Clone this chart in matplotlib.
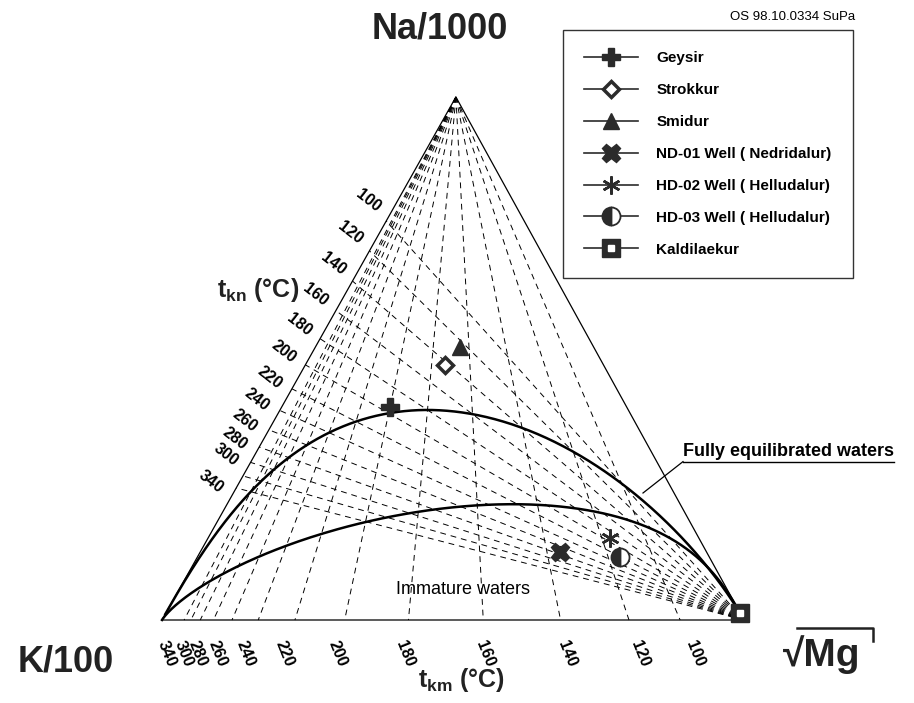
import numpy as np
import matplotlib
matplotlib.use("Agg")
import matplotlib.pyplot as plt
from matplotlib.lines import Line2D
from matplotlib.legend_handler import HandlerTuple

plt.rcParams['font.family'] = ['Liberation Sans', 'DejaVu Sans']
plt.rcParams['mathtext.fontset'] = 'custom'
plt.rcParams['mathtext.rm'] = 'Liberation Sans'
plt.rcParams['mathtext.bf'] = 'Liberation Sans:bold'

# sample compositions (% of Na/1000 + K/100 + sqrt(Mg))
names = ["Geysir", "Strokkur", "Smidur", "ND-01 Well ( Nedridalur)",
         "HD-02 Well ( Helludalur)", "HD-03 Well ( Helludalur)", "Kaldilaekur"]
na_pct = [40.7, 48.8, 52.2, 13.0, 15.7, 12.0, 1.3]
k_pct = [40.6, 27.3, 22.9, 25.1, 15.2, 15.3, 0.0]
mg_pct = [18.7, 23.9, 24.9, 61.9, 69.1, 72.7, 98.7]

# isotherms (deg C)
tkn_lines = [100, 120, 140, 160, 180, 200, 220, 240, 260, 280, 300, 320, 340]
tkn_labels = [100, 120, 140, 160, 180, 200, 220, 240, 260, 280, 300, 340]
tkm_lines = [100, 120, 140, 160, 180, 200, 220, 240, 260, 280, 300, 320, 340]
tkm_labels = [100, 120, 140, 160, 180, 200, 220, 240, 260, 280, 300, 340]

# geothermometers: Na/K (Arnorsson 1983), K/Mg (Giggenbach 1988)
NAK_A, NAK_B = 933.0, 0.993
KMG_A, KMG_B = 14.0, 4410.0
MI_IMMATURE = 2.0

APEX_X = 0.505
DARK = '#2b2b2b'


def tern(na, k, mg):
    na, k, mg = (np.asarray(v, dtype=float) for v in (na, k, mg))
    s = na + k + mg
    return (mg + APEX_X * na) / s, na / s


def nak(t):
    return 10 ** (NAK_A / (t + 273.15) - NAK_B)


def k2mg(t):
    return 10 ** (KMG_A - KMG_B / (t + 273.15))


fig = plt.figure(figsize=(9.14, 7.03), dpi=100)
ax = fig.add_axes([0, 0, 1, 1])
ax.set_xlim((0 - 162) / 582, (914 - 162) / 582)
ax.set_ylim((620 - 703) / 523, 620 / 523)
ax.axis('off')

# triangle
ax.plot([0, 1, APEX_X, 0], [0, 0, 1, 0], color='black', lw=0.9)

dash = (0, (6, 5))
# tkn lines: from Mg apex to K-Na edge
for t in tkn_lines:
    x, y = tern(nak(t) / 10, 1, 0)
    ax.plot([1, x], [0, y], color='black', lw=0.7, linestyle=dash)
for t in tkn_labels:
    x, y = tern(nak(t) / 10, 1, 0)
    lx, ly = 1 + (x - 1) * 1.05, y * 1.05
    ax.text(lx, ly, str(t), rotation=-38, ha='center', va='center',
            fontsize=11.5, fontweight='bold')

# tkm lines: from Na apex to K-Mg edge
for t in tkm_lines:
    x, y = tern(0, np.sqrt(k2mg(t)) / 100, 1)
    ax.plot([APEX_X, x], [1, y], color='black', lw=0.7, linestyle=dash)
for t in tkm_labels:
    x, y = tern(0, np.sqrt(k2mg(t)) / 100, 1)
    lx, ly = APEX_X + (x - APEX_X) * 1.065, 1 - 1.065
    ax.text(lx, ly, str(t), rotation=-68, ha='center', va='center',
            fontsize=11.5, fontweight='bold')

# full equilibrium curve
tt = np.concatenate([np.linspace(-20, 400, 500), np.geomspace(400, 20000, 300)])
kp = np.sqrt(k2mg(tt)) / 100
fx, fy = tern(kp * nak(tt) / 10, kp, 1)
ax.plot(fx, fy, color='black', lw=1.8)

# immature water boundary (MI = 2.0)
L = np.linspace(-8, 16, 800)
kp = 10 ** (L / 2) / 100
na_k = 10 ** (MI_IMMATURE - 0.315 * L)
ix, iy = tern(kp * na_k / 10, kp, 1)
ax.plot(ix, iy, color='black', lw=1.8)

# samples
px, py = tern(na_pct, k_pct, mg_pct)
styles = [
    dict(marker='P', ms=13, mfc=DARK, mec=DARK),
    dict(marker='D', ms=8.5, mfc='white', mec=DARK, mew=2.5),
    dict(marker='^', ms=11, mfc=DARK, mec=DARK),
    dict(marker='X', ms=13, mfc=DARK, mec=DARK),
    dict(marker=(6, 2, 0), ms=13, mfc=DARK, mec=DARK, mew=1.8),
    dict(marker='o', ms=13, mfc=DARK, mec=DARK, fillstyle='left',
         mfcalt='white', mew=1.3),
    dict(marker='s', ms=13, mfc=DARK, mec=DARK),
]
handles = []
for i, st in enumerate(styles):
    ax.plot(px[i], py[i], linestyle='none', zorder=5, **st)
    h = Line2D([], [], color=DARK, lw=1.2, **st)
    if i == len(styles) - 1:
        inner = Line2D([], [], linestyle='none', marker='s', ms=5,
                       mfc='white', mec='white')
        ax.plot(px[i], py[i], linestyle='none', zorder=6, marker='s', ms=5,
                mfc='white', mec='white')
        h = (h, inner)
    handles.append(h)

leg = fig.legend(handles, names, loc='upper left',
                 bbox_to_anchor=(563 / 914, 1 - 30 / 703),
                 handler_map={tuple: HandlerTuple(ndivide=1)},
                 prop={'weight': 'bold', 'size': 11},
                 frameon=True, fancybox=False, edgecolor='black',
                 handlelength=3.5, handletextpad=1.2, borderpad=1.4,
                 labelspacing=1.17, borderaxespad=0)
leg.get_frame().set_linewidth(1.0)

# corner and axis titles
ax.text((440 - 162) / 582, (620 - 29) / 523, 'Na/1000', ha='center',
        va='center', fontsize=26, fontweight='bold', color='#222222')
ax.text((66 - 162) / 582, (620 - 662) / 523, 'K/100', ha='center',
        va='center', fontsize=26, fontweight='bold', color='#222222')
ax.text((822 - 162) / 582, (620 - 655) / 523, '\u221aMg', ha='center',
        va='center', fontsize=28, fontweight='bold', color='#222222')
ax.plot([(797 - 162) / 582, (873 - 162) / 582, (873 - 162) / 582],
        [(620 - 628) / 523, (620 - 628) / 523, (620 - 641) / 523],
        color='#222222', lw=1.8)
ax.text((258 - 162) / 582, (620 - 290) / 523, r'$\mathbf{t}_{\mathbf{kn}}$ (°C)',
        ha='center', va='center', fontsize=18, fontweight='bold', color='#222222')
ax.text((462 - 162) / 582, (620 - 680) / 523, r'$\mathbf{t}_{\mathbf{km}}$ (°C)',
        ha='center', va='center', fontsize=18, fontweight='bold', color='#222222')
ax.text((855 - 162) / 582, (620 - 17) / 523, 'OS 98.10.0334 SuPa', ha='right',
        va='center', fontsize=9.5)

ax.text((463 - 162) / 582, (620 - 590) / 523, 'Immature waters', ha='center',
        va='center', fontsize=13)

fe = ax.text((683 - 162) / 582, (620 - 451) / 523, 'Fully equilibrated waters',
             ha='left', va='center', fontsize=13, fontweight='bold')
fig.canvas.draw()
bb = fe.get_window_extent().transformed(ax.transData.inverted())
uy = bb.y0 - 0.004
ax.plot([bb.x0, bb.x1], [uy, uy], color='black', lw=1.0)
ax.plot([bb.x0, (643 - 162) / 582], [uy, (620 - 493) / 523], color='black', lw=0.9)

fig.savefig('out.png', dpi=100, facecolor='white')
